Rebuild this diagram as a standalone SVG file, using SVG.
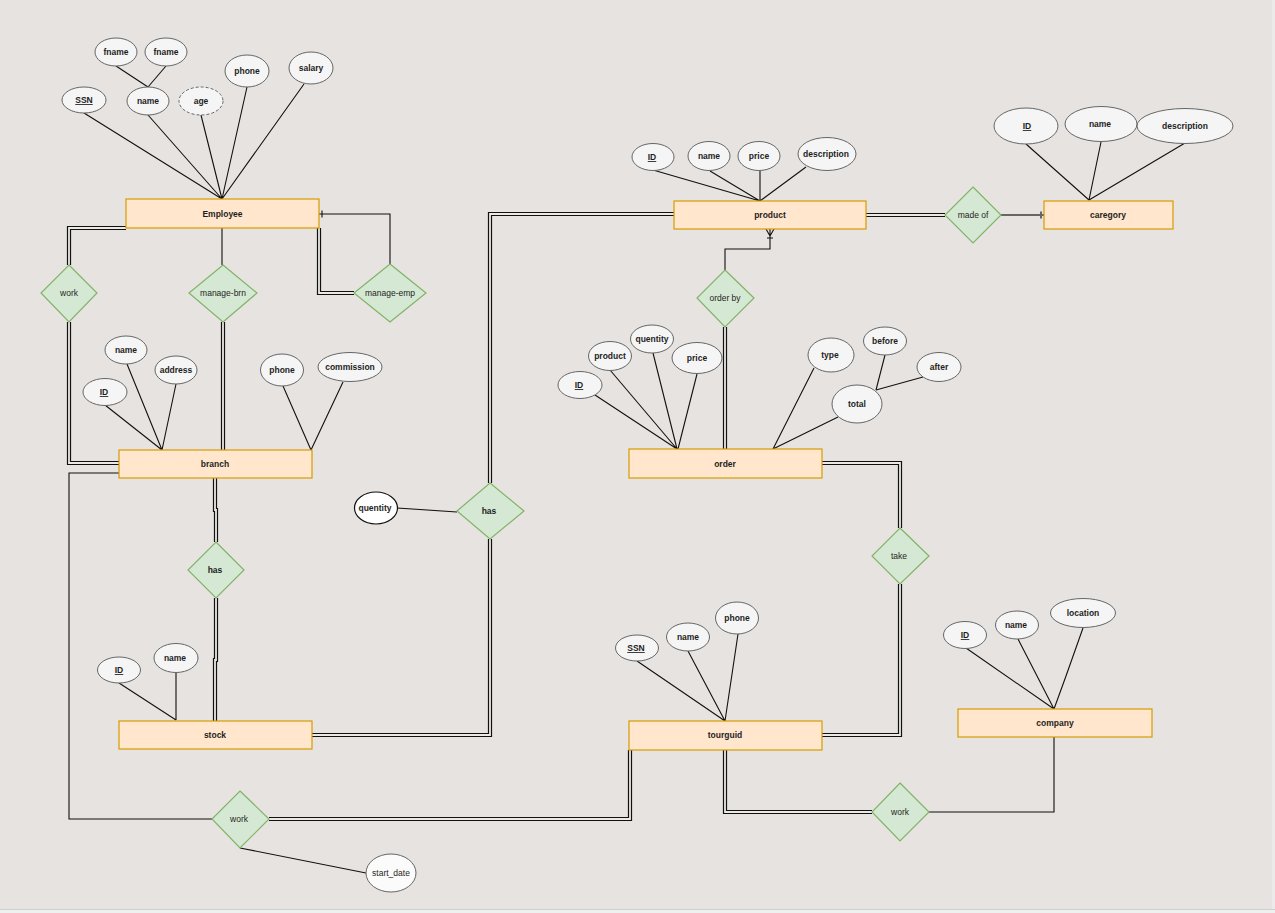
<svg xmlns="http://www.w3.org/2000/svg" xmlns:xlink="http://www.w3.org/1999/xlink" width="1275" height="913" viewBox="0 0 1275 913">
<style>
.ent{fill:#ffe6cc;stroke:#d79b00;stroke-width:1.2}
.rel{fill:#d5e8d4;stroke:#82b366;stroke-width:1.2}
.att{fill:#f5f5f5;stroke:#666;stroke-width:1}
.dash{stroke-dasharray:3 2}
.ln{fill:none;stroke:#111;stroke-width:1.1}
.dO{fill:none;stroke:#111;stroke-width:4.2}
.dI{fill:none;stroke:#ece9e6;stroke-width:1.8}
text{font-family:"Liberation Sans",Arial,Helvetica,sans-serif;font-size:8.5px;fill:#1e1e1e;text-anchor:middle}
.b{font-weight:bold}
.u{text-decoration:underline}
</style>
<defs>
<path id="d1" d="M126 228 H69 V265"/>
<path id="d2" d="M69 322 V463 H119"/>
<path id="d3" d="M223 322 V450"/>
<path id="d4" d="M319 228 V293 H354"/>
<path id="d5" d="M215 478 V510 H216 V542"/>
<path id="d6" d="M216 598 V660 H215 V721"/>
<path id="d7" d="M674 214 H490 V483"/>
<path id="d8" d="M490 539 V735 H311"/>
<path id="d9" d="M866 215 H945"/>
<path id="d10" d="M725 327 V449"/>
<path id="d11" d="M822 463 H900 V528"/>
<path id="d12" d="M900 584 V735 H822"/>
<path id="d13" d="M269 819 H630 V750"/>
<path id="d14" d="M725 750 V812 H872"/>
</defs>
<rect x="0" y="0" width="1275" height="913" fill="#e6e3e0"/>
<rect x="0" y="909" width="1275" height="4" fill="#eef0f0"/>
<line x1="0" y1="909.5" x2="1275" y2="909.5" stroke="#cfcfcf"/>
<rect x="1272" y="0" width="3" height="909" fill="#eceaea"/>

<g id="connectors">
<use xlink:href="#d1" class="dO"/><use xlink:href="#d1" class="dI"/>
<use xlink:href="#d2" class="dO"/><use xlink:href="#d2" class="dI"/>
<use xlink:href="#d3" class="dO"/><use xlink:href="#d3" class="dI"/>
<use xlink:href="#d4" class="dO"/><use xlink:href="#d4" class="dI"/>
<use xlink:href="#d5" class="dO"/><use xlink:href="#d5" class="dI"/>
<use xlink:href="#d6" class="dO"/><use xlink:href="#d6" class="dI"/>
<use xlink:href="#d7" class="dO"/><use xlink:href="#d7" class="dI"/>
<use xlink:href="#d8" class="dO"/><use xlink:href="#d8" class="dI"/>
<use xlink:href="#d9" class="dO"/><use xlink:href="#d9" class="dI"/>
<use xlink:href="#d10" class="dO"/><use xlink:href="#d10" class="dI"/>
<use xlink:href="#d11" class="dO"/><use xlink:href="#d11" class="dI"/>
<use xlink:href="#d12" class="dO"/><use xlink:href="#d12" class="dI"/>
<use xlink:href="#d13" class="dO"/><use xlink:href="#d13" class="dI"/>
<use xlink:href="#d14" class="dO"/><use xlink:href="#d14" class="dI"/>
<!-- employee attributes -->
<path class="ln" d="M116 66 L148 87 M166 66 L148 87"/>
<path class="ln" d="M84 113 L222 199 M148 115 L222 199 M201 115 L222 199 M247 87 L222 199 M304 84 L222 199"/>
<path class="ln" d="M222 228 V265"/>
<path class="ln" d="M319 214 H390 V264 M322 210.5 V217.5"/>
<!-- branch attributes -->
<path class="ln" d="M105 405 L162 450 M127 364 L162 450 M176 384 L162 450 M283 386 L311 450 M343 382 L311 450"/>
<path class="ln" d="M119 473 H69 V819 H212"/>
<path class="ln" d="M240 848 L366 873"/>
<!-- stock attributes -->
<path class="ln" d="M119 683 L176 720 M176 673 V720"/>
<path class="ln" d="M397 508 L457 512"/>
<!-- product -->
<path class="ln" d="M653 170 L760 201 M710 171 L760 201 M760 171 V201 M806 167 L760 201"/>
<path d="M1001 215 H1044 M1041 211.5 V218.5" fill="none" stroke="#666" stroke-width="2"/>
<path class="ln" d="M1026 144 L1089 200 M1101 142 L1089 200 M1185 143 L1089 200"/>
<path class="ln" d="M725 270 V249 H770 V229 M770 236 L766 229 M770 236 L774 229 M767 238 H773"/>
<!-- order -->
<path class="ln" d="M595 395 L677 449 M610 370 L677 449 M653 353 L677 449 M697 374 L678 449 M814 368 L773 449 M838 417 L773 449 M885 355 L876 390 M923 377 L876 390"/>
<!-- tourguid / company -->
<path class="ln" d="M637 661 L725 721 M688 651 L725 721 M738 634 L725 721"/>
<path class="ln" d="M966 648 L1054 709 M1018 639 L1054 709 M1083 628 L1066 676 L1054 709"/>
<path class="ln" d="M929 812 H1054 V737"/>
</g>

<g id="employee"><rect class="ent" x="126" y="199" width="193" height="29"/><text class="b" x="222.5" y="217">Employee</text></g>
<g id="emp-fname1"><ellipse class="att" cx="116" cy="52" rx="21" ry="14"/><text class="b" x="116" y="55">fname</text></g>
<g id="emp-fname2"><ellipse class="att" cx="166" cy="52" rx="21" ry="14"/><text class="b" x="166" y="55">fname</text></g>
<g id="emp-ssn"><ellipse class="att" cx="84" cy="100" rx="22" ry="13"/><text class="b u" x="84" y="103">SSN</text></g>
<g id="emp-name"><ellipse class="att" cx="148" cy="101" rx="21" ry="14"/><text class="b" x="148" y="104">name</text></g>
<g id="emp-age"><ellipse class="att dash" cx="201" cy="101" rx="22" ry="14"/><text class="b" x="201" y="104">age</text></g>
<g id="emp-phone"><ellipse class="att" cx="247" cy="71" rx="22" ry="16"/><text class="b" x="247" y="74">phone</text></g>
<g id="emp-salary"><ellipse class="att" cx="311" cy="68" rx="22" ry="16"/><text class="b" x="311" y="71">salary</text></g>

<g id="rel-work1"><polygon class="rel" points="69,265 97,293 69,322 41,293"/><text x="69" y="296">work</text></g>
<g id="rel-manage-brn"><polygon class="rel" points="223,265 257,293 223,322 189,293"/><text x="223" y="296">manage-brn</text></g>
<g id="rel-manage-emp"><polygon class="rel" points="390,264 426,293 390,322 354,293"/><text x="390" y="296">manage-emp</text></g>

<g id="branch"><rect class="ent" x="119" y="450" width="193" height="28"/><text class="b" x="215" y="467">branch</text></g>
<g id="br-name"><ellipse class="att" cx="126" cy="350" rx="21" ry="14"/><text class="b" x="126" y="353">name</text></g>
<g id="br-address"><ellipse class="att" cx="176" cy="370" rx="21" ry="14"/><text class="b" x="176" y="373">address</text></g>
<g id="br-id"><ellipse class="att" cx="105" cy="392" rx="22" ry="13.5"/><text class="b u" x="104" y="395">ID</text></g>
<g id="br-phone"><ellipse class="att" cx="282" cy="370" rx="21.5" ry="16"/><text class="b" x="282" y="373">phone</text></g>
<g id="br-commission"><ellipse class="att" cx="350" cy="367" rx="32" ry="14.5"/><text class="b" x="350" y="370">commission</text></g>

<g id="rel-has1"><polygon class="rel" points="216,542 244,570 216,598 188,570"/><text class="b" x="215" y="573">has</text></g>
<g id="stock"><rect class="ent" x="119" y="721" width="193" height="28"/><text class="b" x="215" y="738">stock</text></g>
<g id="st-id"><ellipse class="att" cx="119" cy="670" rx="21.5" ry="13"/><text class="b u" x="119" y="673">ID</text></g>
<g id="st-name"><ellipse class="att" cx="176" cy="658" rx="22" ry="14.5"/><text class="b" x="175" y="661">name</text></g>

<g id="quantity"><ellipse cx="376" cy="508" rx="21.5" ry="16" fill="#fff" stroke="#111" stroke-width="1.2"/><text class="b" x="375" y="511">quentity</text></g>
<g id="rel-has2"><polygon class="rel" points="490,483 524,511 490,539 457,511"/><text class="b" x="489" y="514">has</text></g>

<g id="rel-work2"><polygon class="rel" points="240,791 269,819 240,848 212,819"/><text x="239" y="822">work</text></g>
<g id="start-date"><ellipse cx="391" cy="873" rx="25" ry="19" fill="#fbfbfb" stroke="#666" stroke-width="1"/><text x="391" y="876">start_date</text></g>

<g id="product"><rect class="ent" x="674" y="201" width="192" height="28"/><text class="b" x="770" y="218">product</text></g>
<g id="pr-id"><ellipse class="att" cx="653" cy="157" rx="21" ry="13.5"/><text class="b u" x="652" y="160">ID</text></g>
<g id="pr-name"><ellipse class="att" cx="709" cy="156" rx="21" ry="14.5"/><text class="b" x="709" y="159">name</text></g>
<g id="pr-price"><ellipse class="att" cx="759" cy="156" rx="21" ry="14.5"/><text class="b" x="759" y="159">price</text></g>
<g id="pr-description"><ellipse class="att" cx="827" cy="154" rx="29" ry="16.5"/><text class="b" x="826" y="157">description</text></g>

<g id="rel-made-of"><polygon class="rel" points="973,187 1001,215 973,243 945,215"/><text x="973" y="218">made of</text></g>
<g id="category"><rect class="ent" x="1044" y="201" width="129" height="28"/><text class="b" x="1108" y="218">caregory</text></g>
<g id="cat-id"><ellipse class="att" cx="1026" cy="126" rx="32" ry="18"/><text class="b u" x="1027" y="129">ID </text></g>
<g id="cat-name"><ellipse class="att" cx="1101" cy="124" rx="36" ry="17.5"/><text class="b" x="1100" y="127">name</text></g>
<g id="cat-description"><ellipse class="att" cx="1185" cy="126" rx="48" ry="17.5"/><text class="b" x="1185" y="129">description</text></g>

<g id="rel-order-by"><polygon class="rel" points="725,270 754,298 725,327 697,298"/><text x="725" y="301">order by</text></g>
<g id="order"><rect class="ent" x="629" y="449" width="193" height="29"/><text class="b" x="725" y="467">order</text></g>
<g id="or-id"><ellipse class="att" cx="580" cy="385" rx="22" ry="13.5"/><text class="b u" x="579" y="388">ID</text></g>
<g id="or-product"><ellipse class="att" cx="610" cy="356" rx="21.5" ry="14.5"/><text class="b" x="610" y="359">product</text></g>
<g id="or-quentity"><ellipse class="att" cx="652" cy="339" rx="21.5" ry="14"/><text class="b" x="652" y="342">quentity</text></g>
<g id="or-price"><ellipse class="att" cx="697" cy="358" rx="25" ry="15.5"/><text class="b" x="697" y="361">price</text></g>
<g id="or-type"><ellipse class="att" cx="831" cy="355" rx="23" ry="17"/><text class="b" x="830" y="358">type</text></g>
<g id="or-before"><ellipse class="att" cx="885" cy="341" rx="21.5" ry="14"/><text class="b" x="885" y="344">before</text></g>
<g id="or-after"><ellipse class="att" cx="939" cy="367" rx="22" ry="14.5"/><text class="b" x="939" y="370">after</text></g>
<g id="or-total"><ellipse class="att" cx="857" cy="404" rx="25" ry="19"/><text class="b" x="857" y="407">total</text></g>

<g id="rel-take"><polygon class="rel" points="900,528 929,556 900,584 872,556"/><text x="899" y="559">take</text></g>

<g id="tourguid"><rect class="ent" x="629" y="721" width="193" height="29"/><text class="b" x="725" y="738">tourguid</text></g>
<g id="tg-ssn"><ellipse class="att" cx="637" cy="648" rx="21.5" ry="13"/><text class="b u" x="636" y="651">SSN</text></g>
<g id="tg-name"><ellipse class="att" cx="688" cy="637" rx="21.5" ry="14"/><text class="b" x="688" y="640">name</text></g>
<g id="tg-phone"><ellipse class="att" cx="737" cy="618" rx="21.5" ry="16"/><text class="b" x="737" y="621">phone</text></g>

<g id="company"><rect class="ent" x="958" y="709" width="194" height="28"/><text class="b" x="1055" y="726">company</text></g>
<g id="co-id"><ellipse class="att" cx="965" cy="635" rx="21.5" ry="13.5"/><text class="b u" x="965" y="638">ID</text></g>
<g id="co-name"><ellipse class="att" cx="1017" cy="625" rx="21.5" ry="14"/><text class="b" x="1016" y="628">name</text></g>
<g id="co-location"><ellipse class="att" cx="1083" cy="613" rx="32.5" ry="14.5"/><text class="b" x="1083" y="616">location</text></g>

<g id="rel-work3"><polygon class="rel" points="900,783 929,812 900,841 872,812"/><text x="900" y="815">work</text></g>
</svg>
